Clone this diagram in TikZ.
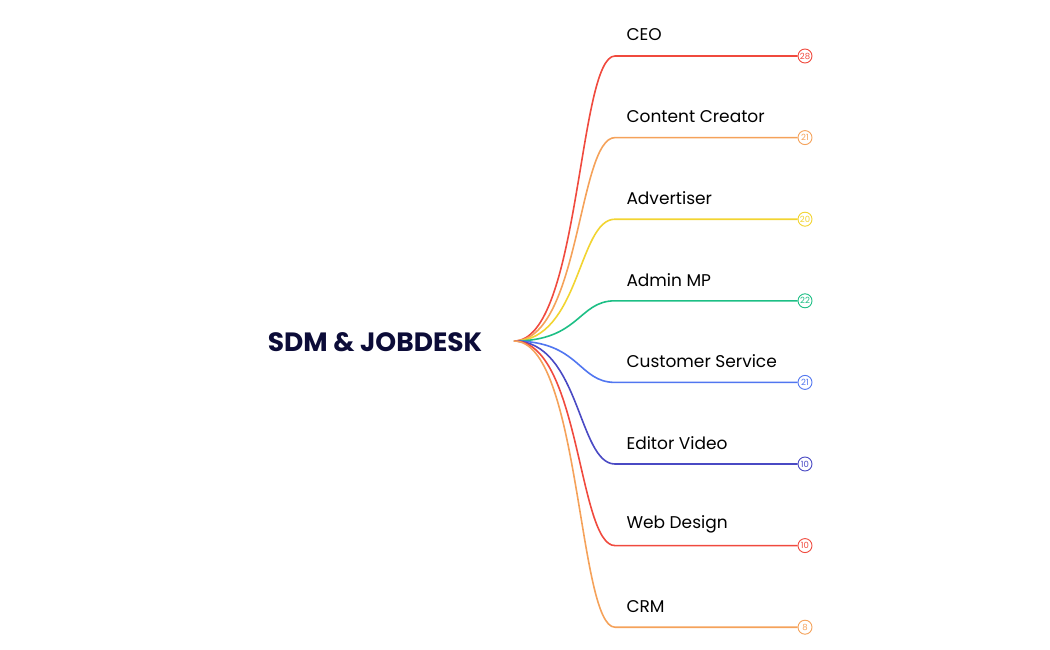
\documentclass[tikz,border=0pt]{standalone}
\usepackage{fontspec}
\setmainfont{Poppins}
\begin{document}
\begin{tikzpicture}[x=1pt,y=-1pt,
  br/.style={line width=1.6pt},
  lab/.style={anchor=west,font=\fontsize{17}{17}\selectfont,text=black},
  cnt/.style={circle,draw,fill=white,line width=0.9pt,minimum size=14pt,inner sep=0pt,font=\fontsize{8.5}{9}\selectfont}]
\useasboundingbox (0,0) rectangle (1050,650);
\definecolor{cA}{HTML}{F04A3E}
\definecolor{cB}{HTML}{F5A25A}
\definecolor{cC}{HTML}{F2D431}
\definecolor{cD}{HTML}{1DBF85}
\definecolor{cE}{HTML}{5176F0}
\definecolor{cF}{HTML}{4A4AC4}
\node[anchor=center,font=\fontsize{26.5}{26}\selectfont\bfseries,text={rgb,255:red,12;green,12;blue,56}] (root) at (375,342) {SDM \& JOBDESK};
\coordinate (o) at (514,341);
\foreach \i/\t/\n/\c in {1/CEO/28/cA,2/Content Creator/21/cB,3/Advertiser/20/cC,4/Admin MP/22/cD,5/Customer Service/21/cE,6/Editor Video/10/cF,7/Web Design/10/cA,8/CRM/8/cB}{
  \pgfmathsetmacro{\yy}{56+(\i-1)*81.6}
  \node[cnt,draw=\c,text=\c] (n\i) at (805,\yy) {\n};
  \node[lab] (l\i) at (623,\yy-21) {\t};
  \draw[br,draw=\c] (o) .. controls (580,341) and (578,\yy) .. (615,\yy) -- (n\i.west);
}
\end{tikzpicture}
\end{document}
